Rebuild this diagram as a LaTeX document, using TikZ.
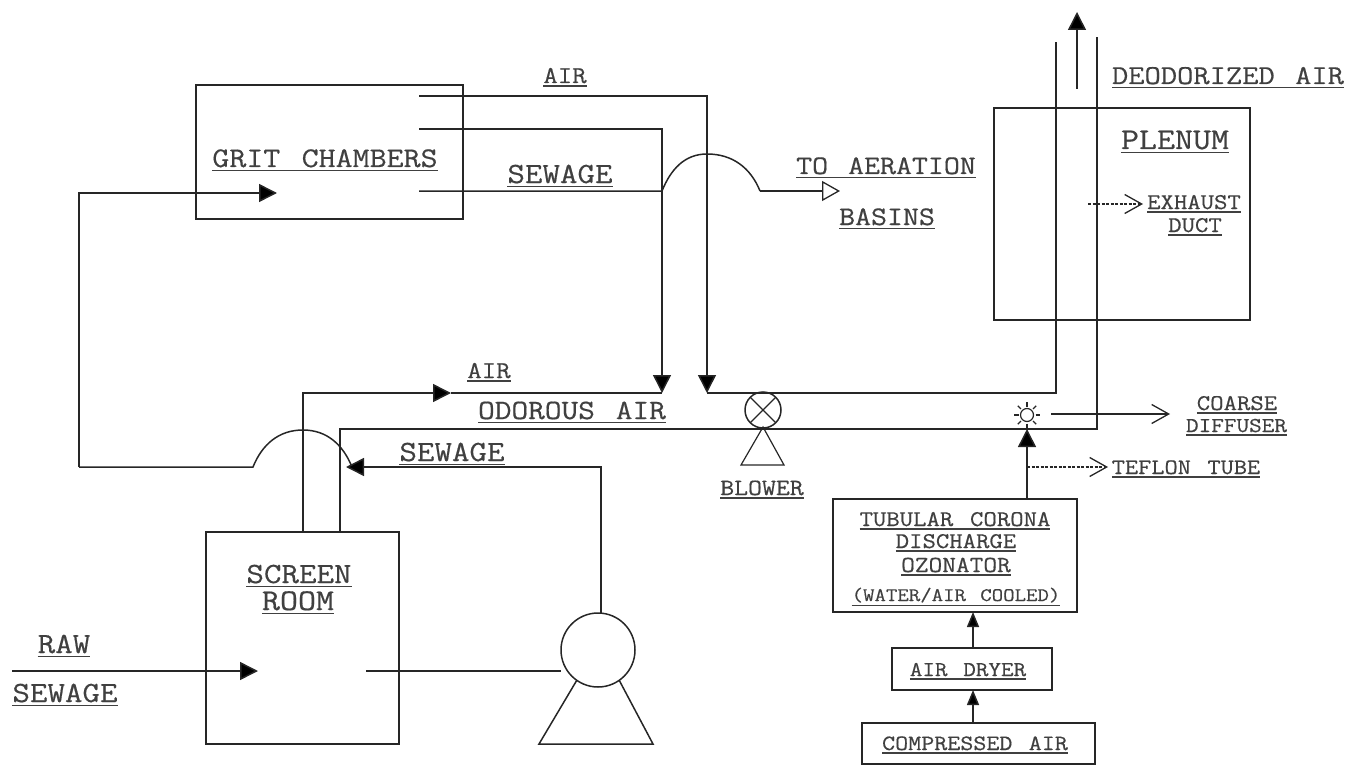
\documentclass[tikz,border=0pt]{standalone}
\usepackage{fontspec}
\setmonofont{Latin Modern Mono}[FakeStretch=1.16,FakeBold=0.5]
\usetikzlibrary{arrows.meta}
\newcommand{\gp}{\hspace{.75em}}
\newcommand{\ulbl}[2]{\fontsize{\fpeval{#1/1.16}}{\fpeval{#1/1.16}}\selectfont\ttfamily\vtop{\hbox{#2}\kern2.2pt\hrule height 1.3pt}}
\tikzset{
  x=1pt,y=-1pt,
  ln/.style={line width=1.5pt,black!85,line join=miter},
  thin ln/.style={line width=1.2pt,black!85},
  boxn/.style={draw=black!85,line width=1.5pt,inner sep=0pt,outer sep=0pt},
  lbl/.style={anchor=base,inner sep=0pt,outer sep=0pt,text=black!75},
  solid tip/.style={-{Triangle[length=18pt,width=18pt,fill=black]}},
  small tip/.style={-{Triangle[length=15pt,width=12pt,fill=black]}},
  open tip/.style={-{Triangle[open,length=18pt,width=20pt,line width=1.3pt]}},
  barb tip/.style={-{Straight Barb[length=17pt,width=19pt,line width=1.3pt]}},
  dash ln/.style={line width=1.1pt,black!85,dash pattern=on 3pt off 1.5pt},
}
\begin{document}
\begin{tikzpicture}
\useasboundingbox (0,0) rectangle (1360,765);
% boxes
\node[boxn,minimum width=267pt,minimum height=134pt] (grit) at (329.5,152) {};
\node[boxn,minimum width=193pt,minimum height=212pt] (screen) at (302.5,638) {};
\node[boxn,minimum width=256pt,minimum height=212pt] (plenum) at (1122,214) {};
\node[boxn,minimum width=244pt,minimum height=113pt] (ozon) at (955,555.5) {};
\node[boxn,minimum width=160pt,minimum height=42pt] (dryer) at (972,669) {};
\node[boxn,minimum width=233pt,minimum height=41pt] (comp) at (978.5,743.5) {};
% symbols
\node[boxn,circle,minimum size=36pt] (blower) at (763,410) {};
\draw[thin ln] (blower.45) -- (blower.225) (blower.135) -- (blower.315);
\coordinate (bapex) at (763,427);
\coordinate (bl) at (741,465);
\coordinate (br) at (784,465);
\draw[thin ln] (bapex) -- (bl) -- (br) -- cycle;
\node[boxn,circle,minimum size=74pt] (pump) at (598,650) {};
\coordinate (pl) at (539,744);
\coordinate (pr) at (653,744);
\draw[ln] (pump.235) -- (pl) -- (pr) -- (pump.305);
\node[draw=black!85,line width=1.2pt,circle,minimum size=13pt,inner sep=0pt] (star) at (1027,415) {};
\foreach \a in {0,45,...,315}
  \draw[thin ln] (1027,415) ++(\a:8.5) -- ++(\a:4.5);
% coordinates
\coordinate (g1) at (419,96);
\coordinate (g2) at (419,129);
\coordinate (g3) at (419,191);
\coordinate (j1) at (707,393);
\coordinate (j2) at (662,393);
\coordinate (h1s) at (662,191);
\coordinate (h1t) at (707,154);
\coordinate (h1e) at (760,191);
\coordinate (base1) at (840,191);
\coordinate (la) at (277,193);
\coordinate (lc) at (79,193);
\coordinate (ld) at (79,467);
\coordinate (h2s) at (253,467);
\coordinate (h2t) at (303,430);
\coordinate (h2e) at (352,467);
\coordinate (sew) at (346,467);
\coordinate (s1) at (303,532);
\coordinate (s2) at (340,532);
\coordinate (airm) at (451,393);
\coordinate (od) at (1097,429);
\coordinate (odt) at (1097,37);
\coordinate (ac) at (1056,393);
\coordinate (act) at (1056,42);
\coordinate (rawin) at (12,671);
\coordinate (rawt) at (258,671);
\coordinate (sout) at (366,671);
\coordinate (upa) at (1077,89);
\coordinate (upb) at (1077,12);
\coordinate (sto) at (1027,429);
\coordinate (cs) at (1051,414);
\coordinate (ce) at (1170,414);
\coordinate (ts) at (1027,467);
\coordinate (te) at (1108,467);
\coordinate (es) at (1088,204);
\coordinate (ee) at (1143,204);
% connectors
\draw[ln,solid tip] (g1) -| (j1);
\draw[ln,solid tip] (g2) -| (j2);
\draw[ln] (g3) -- (h1s) to[out=68,in=180] (h1t) to[out=0,in=112] (h1e);
\draw[ln,open tip] (h1e) -- (base1);
\draw[ln,solid tip] (ld) -- (lc) -- (la);
\draw[ln] (ld) -- (h2s) to[out=68,in=180] (h2t) to[out=0,in=112] (h2e);
\draw[ln,solid tip] (pump.north) ++(3,0) |- (sew);
\draw[ln,solid tip] (s1) |- (airm);
\draw[ln] (airm) -- (j2);
\draw[ln] (s2) |- (od) -- (odt);
\draw[ln] (j1) -- (ac) -- (act);
\draw[ln,solid tip] (rawin) -- (rawt);
\draw[ln] (sout) -- (pump.west |- sout);
\draw[ln,solid tip] (upa) -- (upb);
\draw[ln,solid tip] (star.south |- ozon.north) -- (sto);
\draw[ln,barb tip] (cs) -- (ce);
\draw[dash ln,barb tip] (ts) -- (te);
\draw[dash ln,barb tip] (es) -- (ee);
\draw[ln,small tip] (dryer.north -| 973,0) -- (ozon.south -| 973,0);
\draw[ln,small tip] (comp.north -| 973,0) -- (dryer.south -| 973,0);
% labels
\node[lbl] (t1) at (565,83) {\ulbl{28}{AIR}};
\node[lbl] (t2) at (560,183) {\ulbl{34}{SEWAGE}};
\node[lbl] (t3) at (325,167) {\ulbl{33}{GRIT\gp CHAMBERS}};
\node[lbl] (t4) at (886,174) {\ulbl{31}{TO\gp AERATION}};
\node[lbl] (t5) at (887,225) {\ulbl{31}{BASINS}};
\node[lbl] (t6) at (1228,84) {\ulbl{31.6}{DEODORIZED\gp AIR}};
\node[lbl] (t7) at (1175,149) {\ulbl{35}{PLENUM}};
\node[lbl] (t8) at (1194,209) {\ulbl{26}{EXHAUST}};
\node[lbl] (t9) at (1195,232) {\ulbl{26}{DUCT}};
\node[lbl] (t10) at (489,378) {\ulbl{28}{AIR}};
\node[lbl] (t11) at (572,419) {\ulbl{32.4}{ODOROUS\gp AIR}};
\node[lbl] (t12) at (452,461) {\ulbl{34}{SEWAGE}};
\node[lbl] (t13) at (1237,410) {\ulbl{26}{COARSE}};
\node[lbl] (t14) at (1236.5,432) {\ulbl{24.5}{DIFFUSER}};
\node[lbl] (t15) at (1186,474) {\ulbl{25.6}{TEFLON\gp TUBE}};
\node[lbl] (t16) at (762,495) {\ulbl{27}{BLOWER}};
\node[lbl] (t17) at (955,526) {\ulbl{26}{TUBULAR\gp CORONA}};
\node[lbl] (t18) at (956,548) {\ulbl{26}{DISCHARGE}};
\node[lbl] (t19) at (956,572) {\ulbl{26.6}{OZONATOR}};
\node[lbl] (t20) at (956,601) {\ulbl{22.2}{(WATER/AIR\gp COOLED)}};
\node[lbl] (t21) at (968,676) {\ulbl{24.4}{AIR\gp DRYER}};
\node[lbl] (t22) at (975,750) {\ulbl{25.3}{COMPRESSED\gp AIR}};
\node[lbl] (t23) at (299,583) {\ulbl{34}{SCREEN}};
\node[lbl] (t24) at (298,610) {\ulbl{35}{ROOM}};
\node[lbl] (t25) at (64,653) {\ulbl{34}{RAW}};
\node[lbl] (t26) at (65,702) {\ulbl{34}{SEWAGE}};
\end{tikzpicture}
\end{document}
